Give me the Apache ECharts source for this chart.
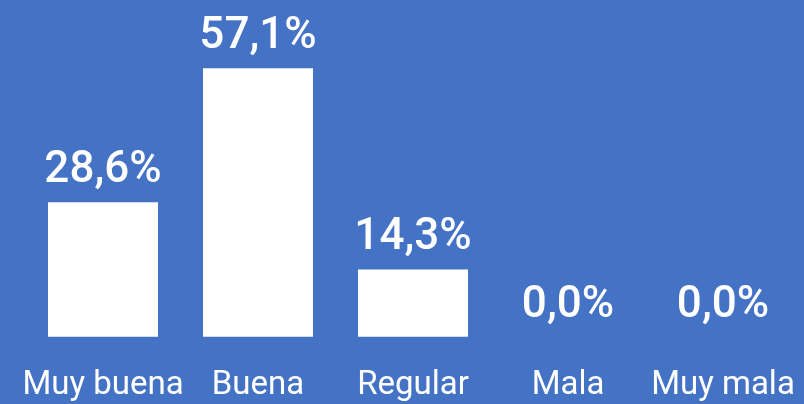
<!DOCTYPE html>
<html>
<head>
<meta charset="utf-8">
<script src="https://cdn.jsdelivr.net/npm/echarts@6/dist/echarts.min.js"></script>
<style>
  html, body { margin: 0; padding: 0; background: #4472c4; }
  #chart { width: 804px; height: 404px; }
</style>
</head>
<body>
<div id="chart"></div>
<script>
const categories = ['Muy buena', 'Buena', 'Regular', 'Mala', 'Muy mala']
const percentages = [28.6, 57.1, 14.3, 0.0, 0.0]

const chart = echarts.init(document.getElementById('chart'))
chart.setOption({
  backgroundColor: '#4472c4',
  animation: false,
  grid: {
    left: 25.5,
    right: 3.5,
    top: 68.3,
    bottom: 67.3
  },
  xAxis: {
    type: 'category',
    data: categories,
    axisLine: { show: false },
    axisTick: { show: false },
    axisLabel: {
      color: '#fff',
      fontFamily: 'Roboto',
      fontWeight: 400,
      fontSize: 33,
      margin: 33,
      interval: 0
    }
  },
  yAxis: {
    type: 'value',
    min: 0,
    max: 57.1,
    show: false,
    splitLine: { show: false }
  },
  series: [
    {
      type: 'bar',
      data: percentages,
      barWidth: 110,
      itemStyle: { color: '#fff' },
      label: {
        show: true,
        position: 'top',
        distance: 9,
        color: '#fff',
        fontFamily: 'Roboto',
        fontWeight: 500,
        fontSize: 44,
        formatter: (p) => p.value.toFixed(1).replace('.', ',') + '%'
      }
    }
  ]
})
</script>
</body>
</html>
